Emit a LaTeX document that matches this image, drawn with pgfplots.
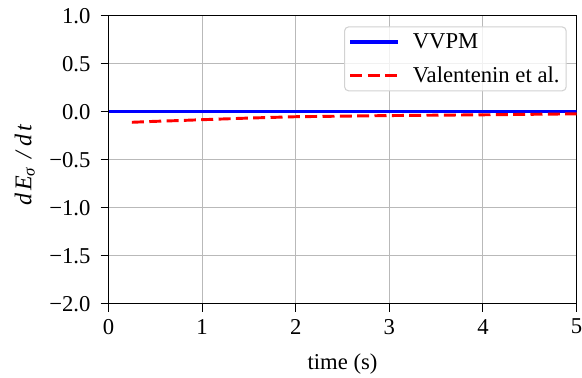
\documentclass[border=0pt]{standalone}
\usepackage{fontspec}
\setmainfont{Liberation Serif}
\usepackage{pgfplots}
\pgfplotsset{compat=1.18}

\pgfplotstableread{
t     dE
0.0   0.0
1.0   0.0
2.0   0.0
3.0   0.0
4.0   0.0
5.0   0.0
}\vvpm

\pgfplotstableread{
t     dE
0.25  -0.110
0.50  -0.100
0.75  -0.092
1.00  -0.083
1.50  -0.066
2.00  -0.052
2.50  -0.046
3.00  -0.040
3.50  -0.036
4.00  -0.032
4.50  -0.027
5.00  -0.022
}\valentenin

\begin{document}
\begin{tikzpicture}
\begin{axis}[
  at={(0pt,0pt)}, anchor=south west,
  scale only axis,
  width=351pt, height=216pt,
  xmin=0, xmax=5, ymin=-2, ymax=1,
  xtick={0,1,2,3,4,5},
  xticklabels={0,1,2,3,4,5},
  ytick={-2,-1.5,-1,-0.5,0,0.5,1},
  yticklabels={−2.0,−1.5,−1.0,−0.5,0.0,0.5,1.0},
  tick align=outside,
  tick pos=left,
  major tick length=6pt,
  tick style={black, line width=0.8pt},
  axis line style={black, line width=0.9pt},
  grid=major,
  major grid style={line width=0.8pt, gray!55},
  ticklabel style={font=\fontsize{17}{20}\selectfont},
  xticklabel style={yshift=-2pt},
  yticklabel style={xshift=-4pt},
  xlabel={time (s)},
  ylabel={\textit{d}\kern2pt\textit{E}\textsubscript{\textit{σ}}\kern6pt\textit{/}\kern3pt\textit{d}\kern2pt\textit{t}},
  label style={font=\fontsize{17}{20}\selectfont},
  xlabel style={yshift=-8pt},
  ylabel style={font=\fontsize{18}{21}\selectfont, yshift=4pt, xshift=-4pt},
  legend style={
    at={(0.979,0.963)}, anchor=north east,
    draw=gray!35, line width=0.8pt, rounded corners=3pt,
    fill=white, fill opacity=0.8, text opacity=1,
    font=\fontsize{17}{20}\selectfont,
    row sep=8pt, inner xsep=3pt, inner ysep=3pt,
    legend cell align=left,
  },
  legend image code/.code={
    \draw[#1, line width=2.4pt, draw opacity=1] (0pt,0pt) -- (36pt,0pt);
    \path[draw=none, fill=none] (0pt,0pt) -- (45pt,0pt);
  },
]
\addplot[blue, line width=2.2pt] table[x=t, y=dE] {\vvpm};
\addlegendentry{VVPM}
\addplot[red, line width=2.2pt, dash pattern=on 9pt off 4pt] table[x=t, y=dE] {\valentenin};
\addlegendentry{Valentenin et al.}
\end{axis}
\pgfresetboundingbox
\path[use as bounding box] (-81.4pt,-55pt) rectangle (355.1pt,227.8pt);
\end{tikzpicture}
\end{document}
